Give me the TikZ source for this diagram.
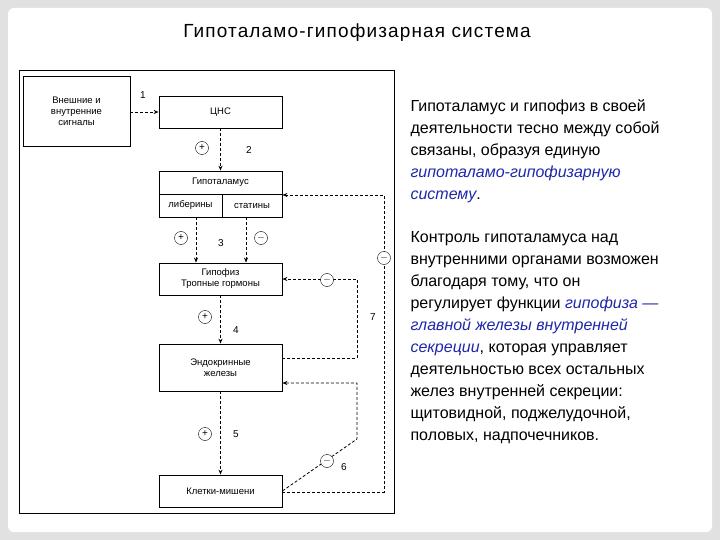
\documentclass[tikz,border=0pt]{standalone}
\usepackage{fontspec}
\setmainfont{Liberation Sans}
\usetikzlibrary{arrows.meta}
\definecolor{bg}{RGB}{225,225,225}
\definecolor{blu}{RGB}{30,40,170}
\begin{document}
\begin{tikzpicture}[x=1pt,y=-1pt,
  box/.style={draw,line width=0.8pt,inner sep=0pt,font=\fontsize{9.5}{11}\selectfont,align=center},
  con/.style={densely dashed,line width=0.8pt,-{Stealth[length=5pt,width=4pt]}},
  sg/.style={draw,circle,inner sep=0pt,minimum size=13pt,font=\fontsize{10}{10}\selectfont},
  num/.style={font=\fontsize{10}{10}\selectfont},
  para/.style={anchor=north west,align=left,font=\fontsize{16}{22}\selectfont}]
\fill[bg] (0,0) rectangle (720,540);
\fill[white,rounded corners=6pt] (8,8) rectangle (712,532);
\node (title) at (357,33) {\fontsize{19}{24}\selectfont\addfontfeature{LetterSpace=6} Гипоталамо-гипофизарная система};
\draw[line width=0.9pt] (19,70) rectangle (394,513);
\node[box,minimum width=107pt,minimum height=70pt] (sig) at (76.5,111) {Внешние и\\внутренние\\сигналы};
\node[box,minimum width=123pt,minimum height=32pt] (cns) at (220.5,112) {ЦНС};
\node[box,minimum width=123pt,minimum height=23pt] (hyp) at (220.5,182.5) {Гипоталамус};
\node[box,minimum width=63pt,minimum height=23pt] (lib) at (190.5,205.5) {либерины};
\node[box,minimum width=60pt,minimum height=23pt] (sta) at (252,205.5) {статины};
\node[box,minimum width=123pt,minimum height=32pt] (pit) at (220.5,279) {Гипофиз\\Тропные гормоны};
\node[box,minimum width=123pt,minimum height=47pt] (end) at (220.5,367.5) {Эндокринные\\железы};
\node[box,minimum width=123pt,minimum height=32pt] (cell) at (220.5,491) {Клетки-мишени};
\draw[con] (sig.east |- cns) -- (cns.west);
\node[num] (n1) at (143,95) {1};
\draw[con] (cns.south) -- (hyp.north);
\node[sg] (p2) at (202,148) {+};
\node[num] (n2) at (249,150) {2};
\draw[con] (lib.south -| 196,0) -- (pit.north -| 196,0);
\draw[con] (sta.south -| 246,0) -- (pit.north -| 246,0);
\node[sg] (p3) at (181,238) {+};
\node[sg] (m3) at (261,238) {$-$};
\node[num] (n3) at (221,243) {3};
\draw[con] (pit.south) -- (end.north);
\node[sg] (p4) at (205,317) {+};
\node[num] (n4) at (236,330) {4};
\draw[con] (end.south) -- (cell.north);
\node[sg] (p5) at (205,434) {+};
\node[num] (n5) at (236,434) {5};
\coordinate (a1) at (384,492);
\coordinate (a2) at (384,195);
\draw[con] (cell.east |- a1) -- (a1) -- (a2) -- (hyp.east |- a2);
\node[sg,fill=white] (m7) at (384,258) {$-$};
\coordinate (b1) at (357,358);
\coordinate (b2) at (357,279);
\draw[con] (end.east |- b1) -- (b1) -- (b2) -- (pit.east |- b2);
\node[sg,fill=white] (mi) at (327,280) {$-$};
\node[num] (n7) at (373,317) {7};
\coordinate (c1) at (357,439);
\coordinate (c2) at (357,383);
\draw[con] (cell.east) -- (c1) -- (c2) -- (end.east |- c2);
\node[sg,fill=white] (m6) at (327,461) {$-$};
\node[num] (n6) at (344,467) {6};
\node[para] (t1) at (407,96) {Гипоталамус и гипофиз в своей\\деятельности тесно между собой\\связаны, образуя единую\\\textcolor{blu}{\itshape гипоталамо-гипофизарную}\\\textcolor{blu}{\itshape систему}.};
\node[para] (t2) at (407,228) {Контроль гипоталамуса над\\внутренними органами возможен\\благодаря тому, что он\\регулирует функции \textcolor{blu}{\itshape гипофиза —}\\\textcolor{blu}{\itshape главной железы внутренней}\\\textcolor{blu}{\itshape секреции}, которая управляет\\деятельностью всех остальных\\желез внутренней секреции:\\щитовидной, поджелудочной,\\половых, надпочечников.};
\end{tikzpicture}
\end{document}
